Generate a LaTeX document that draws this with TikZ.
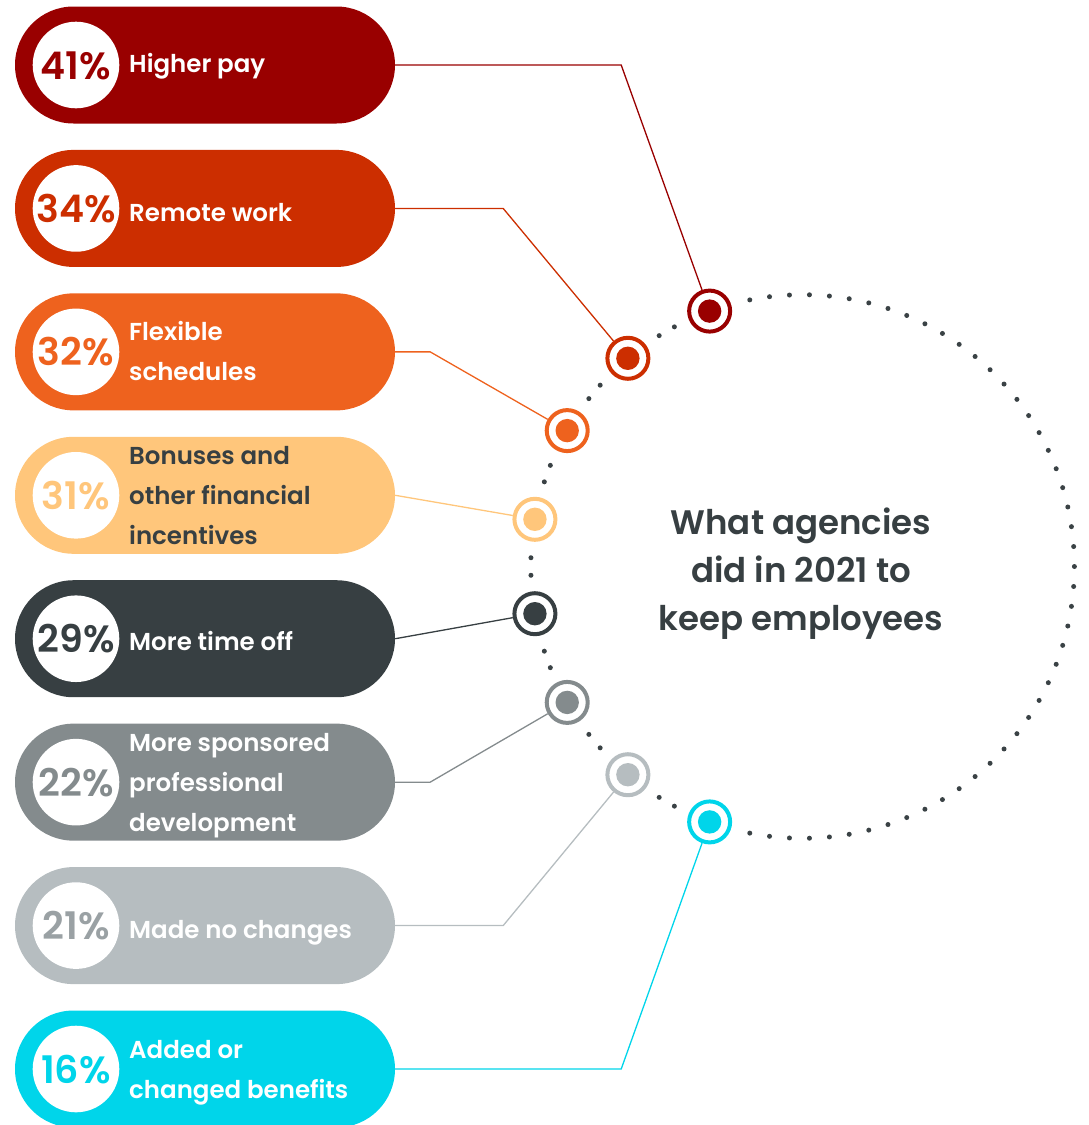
\documentclass[tikz,border=0pt]{standalone}
\usepackage{fontspec}
\setmainfont{Poppins}[UprightFont=* SemiBold]
\definecolor{c1}{HTML}{990000}
\definecolor{c2}{HTML}{CC2E00}
\definecolor{c3}{HTML}{EE621E}
\definecolor{c4}{HTML}{FFC67B}
\definecolor{c5}{HTML}{373F42}
\definecolor{c6}{HTML}{848B8D}
\definecolor{c7}{HTML}{B6BDC0}
\definecolor{c7t}{HTML}{9AA1A4}
\definecolor{c8}{HTML}{00D5EA}
\definecolor{dotc}{HTML}{3A4245}
\begin{document}
\begin{tikzpicture}[x=1pt,y=-1pt,
  pill/.style={rectangle, rounded corners=58.5pt, minimum width=380pt, minimum height=117pt, inner sep=0pt, fill=#1},
  wc/.style={circle, fill=white, minimum size=86.6pt, inner sep=0pt},
  pct/.style={anchor=base, inner sep=0pt, text=#1, font=\fontsize{38}{40}\selectfont},
  lbl/.style={anchor=west, inner sep=0pt, align=left, text=#1, font=\fontsize{24.5}{40}\selectfont, execute at begin node=\strut, execute at end node=\strut},
  mk/.style={circle, draw=#1, line width=4pt, fill=white, minimum size=41pt, inner sep=0pt},
  conn/.style={draw=#1, line width=1.3pt},
  ttl/.style={align=center, inner sep=0pt, text=c5, font=\fontsize{34}{48}\selectfont, execute at begin node=\strut, execute at end node=\strut}
]
\useasboundingbox (0,0) rectangle (1088,1125);

% dotted circle
\coordinate (C) at (802.6,566.5);
\foreach \a in {-24,...,24}
  \fill[dotc] ([shift={(\a*4.217:271.8)}]C) circle[radius=2.5pt];
\foreach \b in {120,140,...,240}
  \foreach \s in {-1.85,1.85}
    \fill[dotc] ([shift={(\b+\s:271.8)}]C) circle[radius=2.5pt];

% pills
\node[pill=c1] (p1) at (205,65) {};
\node[pill=c2] (p2) at (205,208.43) {};
\node[pill=c3] (p3) at (205,351.86) {};
\node[pill=c4] (p4) at (205,495.29) {};
\node[pill=c5] (p5) at (205,638.72) {};
\node[pill=c6] (p6) at (205,782.15) {};
\node[pill=c7] (p7) at (205,925.58) {};
\node[pill=c8] (p8) at (205,1069.01) {};

% white circles and percentages
\node[wc] (w1) at (76,65) {};
\node[wc] (w2) at (76,208.43) {};
\node[wc] (w3) at (76,351.86) {};
\node[wc] (w4) at (76,495.29) {};
\node[wc] (w5) at (76,638.72) {};
\node[wc] (w6) at (76,782.15) {};
\node[wc] (w7) at (76,925.58) {};
\node[wc] (w8) at (76,1069.01) {};
\node[pct=c1] (t1) at (76,79) {41\%};
\node[pct=c2] (t2) at (76,222.43) {34\%};
\node[pct=c3] (t3) at (76,365.86) {32\%};
\node[pct=c4] (t4) at (76,509.29) {31\%};
\node[pct=c5] (t5) at (76,652.72) {29\%};
\node[pct=c6] (t6) at (76,796.15) {22\%};
\node[pct=c7t] (t7) at (76,939.58) {21\%};
\node[pct=c8] (t8) at (76,1083.01) {16\%};

% labels
\node[lbl=white] (l1) at (129,64) {Higher pay};
\node[lbl=white] (l2) at (129,213.43) {Remote work};
\node[lbl=white] (l3) at (129,356.86) {Flexible\\schedules};
\node[lbl=c5] (l4) at (129,501.29) {Bonuses and\\other financial\\incentives};
\node[lbl=white] (l5) at (129,642.72) {More time off};
\node[lbl=white] (l6) at (129,788.15) {More sponsored\\professional\\development};
\node[lbl=white] (l7) at (129,930.58) {Made no changes};
\node[lbl=white] (l8) at (129,1075.01) {Added or\\changed benefits};

% markers
\node[mk=c1] (m1) at ([shift={(250:271.8)}]C) {};
\node[mk=c2] (m2) at ([shift={(230:271.8)}]C) {};
\node[mk=c3] (m3) at ([shift={(210:271.8)}]C) {};
\node[mk=c4] (m4) at ([shift={(190:271.8)}]C) {};
\node[mk=c5] (m5) at ([shift={(170:271.8)}]C) {};
\node[mk=c6] (m6) at ([shift={(150:271.8)}]C) {};
\node[mk=c7] (m7) at ([shift={(130:271.8)}]C) {};
\node[mk=c8] (m8) at ([shift={(110:271.8)}]C) {};
\fill[c1] (m1.center) circle[radius=11.7pt];
\fill[c2] (m2.center) circle[radius=11.7pt];
\fill[c3] (m3.center) circle[radius=11.7pt];
\fill[c4] (m4.center) circle[radius=11.7pt];
\fill[c5] (m5.center) circle[radius=11.7pt];
\fill[c6] (m6.center) circle[radius=11.7pt];
\fill[c7] (m7.center) circle[radius=11.7pt];
\fill[c8] (m8.center) circle[radius=11.7pt];

% connectors
\draw[conn=c1] (p1.east) -- ++(226,0) -- (m1);
\draw[conn=c2] (p2.east) -- ++(108,0) -- (m2);
\draw[conn=c3] (p3.east) -- ++(35,0) -- (m3);
\draw[conn=c4] (p4.east) -- (m4);
\draw[conn=c5] (p5.east) -- (m5);
\draw[conn=c6] (p6.east) -- ++(35,0) -- (m6);
\draw[conn=c7] (p7.east) -- ++(108,0) -- (m7);
\draw[conn=c8] (p8.east) -- ++(226,0) -- (m8);

% title
\node[ttl] (title) at (801,576.4) {What agencies\\did in 2021 to\\keep employees};
\end{tikzpicture}
\end{document}
